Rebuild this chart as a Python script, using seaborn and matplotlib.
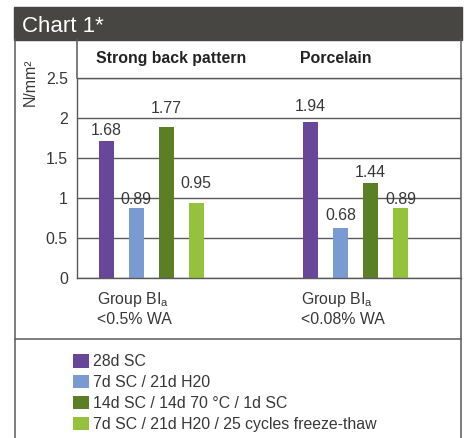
import numpy as np
import pandas as pd
import matplotlib
matplotlib.use("Agg")
import matplotlib.pyplot as plt
from matplotlib.lines import Line2D
from matplotlib.patches import Rectangle
import seaborn as sns

groups = ["Strong back pattern", "Porcelain"]
group_notes = ["<0.5% WA", "<0.08% WA"]
conditions = ["28d SC", "7d SC / 21d H20", "14d SC / 14d 70 °C / 1d SC",
              "7d SC / 21d H20 / 25 cycles freeze-thaw"]
colors = ["#68479a", "#7a9bd1", "#5b7f24", "#94c23d"]

# bar heights as drawn (N/mm2)
sc28 = [1.71, 1.95]
sc7_h2o = [0.87, 0.62]
sc14_heat = [1.89, 1.19]
freeze_thaw = [0.94, 0.87]

# values printed above the bars
sc28_txt = ["1.68", "1.94"]
sc7_h2o_txt = ["0.89", "0.68"]
sc14_heat_txt = ["1.77", "1.44"]
freeze_thaw_txt = ["0.95", "0.89"]

# label gap above bar top, points
label_gap = [[8.4, 11.7], [7.4, 10.1], [14.1, 8.6], [14.4, 7.4]]

df = pd.DataFrame({
    "group": groups * 4,
    "condition": np.repeat(conditions, 2),
    "value": sc28 + sc7_h2o + sc14_heat + freeze_thaw,
})
texts = [sc28_txt, sc7_h2o_txt, sc14_heat_txt, freeze_thaw_txt]

sns.set_style("white")
plt.rcParams["font.family"] = ["Liberation Sans", "DejaVu Sans"]
plt.rcParams["mathtext.fontset"] = "custom"
plt.rcParams["mathtext.rm"] = "Liberation Sans"
txt_col = "#383838"
line_col = "#5a5a5a"
fs = 11.4

W, H = 465, 438
fig = plt.figure(figsize=(W / 100, H / 100), dpi=100)
ax = fig.add_axes([77 / W, 1 - 277.7 / H, (461 - 77) / W, 200 / H])

sns.barplot(data=df, x="group", y="value", hue="condition", order=groups,
            hue_order=conditions, palette=colors, width=0.587, gap=0.5,
            saturation=1, linewidth=0, errorbar=None, ax=ax)

for cont, lbls, gaps in zip(ax.containers, texts, label_gap):
    for bar, t, g in zip(cont, lbls, gaps):
        ax.annotate(t, (bar.get_x() + bar.get_width() / 2, bar.get_height()),
                    xytext=(0, g), textcoords="offset points", ha="center",
                    va="center_baseline", fontsize=fs, color=txt_col)

ax.set_xlim(-0.3635, 1.515)
ax.set_ylim(0, 2.5)
ax.set_yticks([0, 0.5, 1, 1.5, 2, 2.5])
ax.set_yticklabels(["0", "0.5", "1", "1.5", "2", "2.5"])
ax.tick_params(axis="y", length=0, pad=6.6, labelsize=fs, labelcolor=txt_col)
ax.tick_params(axis="x", length=0, labelbottom=False)
ax.set_xlabel("")
ax.set_ylabel("")
ax.yaxis.grid(True, color=line_col, linewidth=1)
ax.set_axisbelow(True)
for s in ["left", "top", "bottom"]:
    ax.spines[s].set_color(line_col)
    ax.spines[s].set_linewidth(1)
ax.spines["right"].set_visible(False)

handles, labels = ax.get_legend_handles_labels()
ax.get_legend().remove()
fig.legend(handles, labels, loc="upper left", bbox_to_anchor=(73 / W, 1 - 354 / H),
           bbox_transform=fig.transFigure, frameon=False, fontsize=fs,
           handlelength=1.0, handleheight=0.94, handletextpad=0.28,
           labelspacing=0.36, borderpad=0, borderaxespad=0, labelcolor=txt_col)

for i, (g, note) in enumerate(zip(groups, group_notes)):
    ax.text(i - 0.267, -0.097, "Group BI$_\\mathregular{a}$", transform=ax.get_xaxis_transform(),
            ha="left", va="center_baseline", fontsize=fs, color=txt_col)
    ax.text(i - 0.267, -0.202, note, transform=ax.get_xaxis_transform(),
            ha="left", va="center_baseline", fontsize=fs, color=txt_col)
    ax.text(i - 0.272, 1.103, g, transform=ax.get_xaxis_transform(),
            ha="left", va="center_baseline", fontsize=fs, fontweight="bold", color="#222222")

# frame and header
fig.add_artist(Rectangle((14 / W, 1 - 39.5 / H), (461.5 - 14) / W, 32.5 / H,
                         transform=fig.transFigure, color="#474643", zorder=0))
fig.text(22 / W, 1 - 23.5 / H, "Chart 1*", color="white", fontsize=16,
         ha="left", va="center_baseline")
frame = [((14.5, 39), (14.5, 438)), ((461, 39), (461, 438)),
         ((14.5, 339), (461, 339)), ((77.3, 39), (77.3, 78))]
for (x0, y0), (x1, y1) in frame:
    fig.add_artist(Line2D([x0 / W, x1 / W], [1 - y0 / H, 1 - y1 / H],
                          transform=fig.transFigure, color=line_col, linewidth=1.1))
fig.text(30 / W, 1 - 82 / H, "N/mm²", rotation=90, fontsize=fs, color=txt_col,
         ha="center", va="center")

fig.savefig("out.png", dpi=100)
